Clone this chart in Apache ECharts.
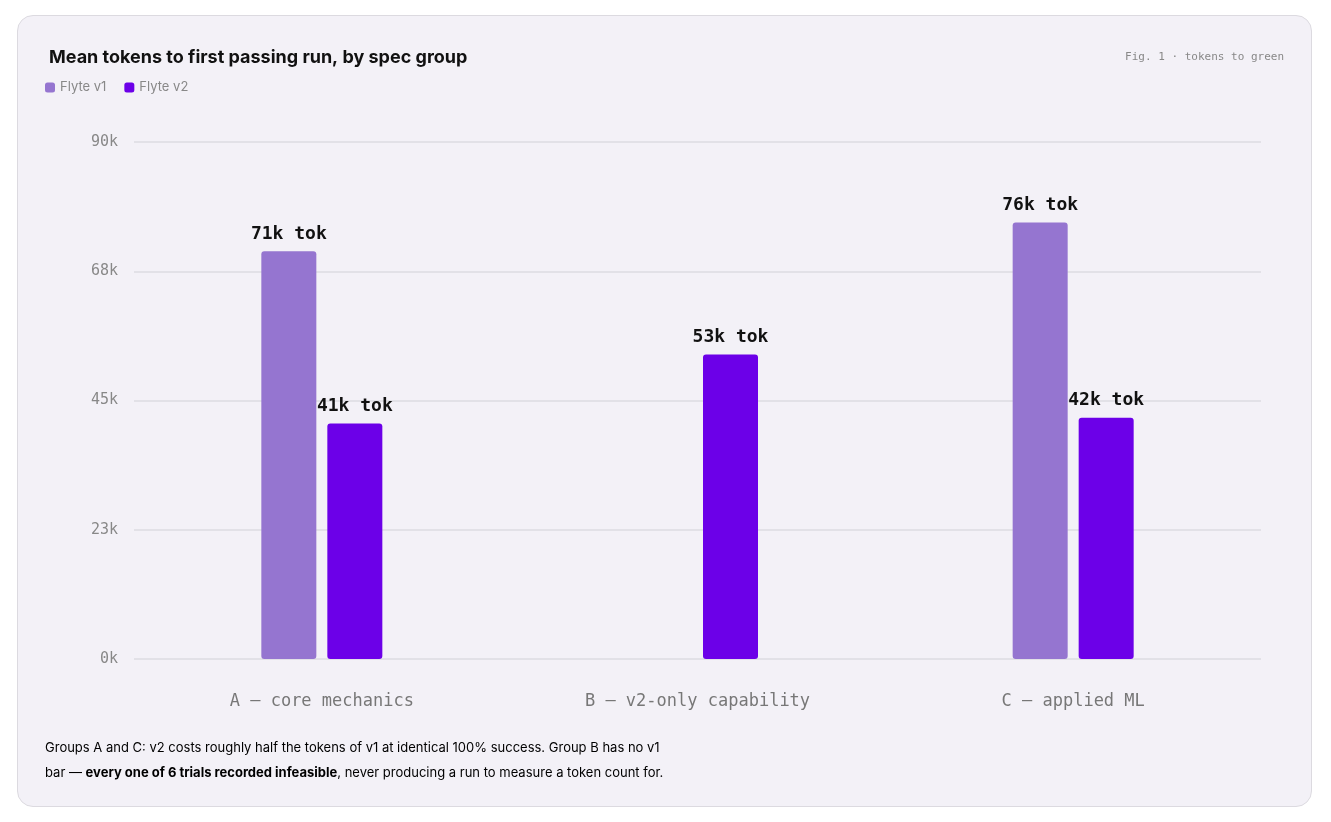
<!DOCTYPE html>
<html>
<head>
<meta charset="utf-8">
<script src="https://cdn.jsdelivr.net/npm/echarts@6/dist/echarts.min.js"></script>
<style>
  html, body { margin: 0; padding: 0; background: #ffffff; }
  #card {
    position: absolute; left: 17px; top: 15px; width: 1293px; height: 790px;
    border: 1px solid #dcdae0; border-radius: 16px; background: #f3f1f7; overflow: hidden;
  }
  #charts { width: 100%; height: 100%; }
</style>
</head>
<body>
<div id="card"><div id="charts"></div></div>
<script>
const categories = ['A — core mechanics', 'B — v2-only capability', 'C — applied ML'];
const v1Values = [71000, null, 76000];
const v2Values = [41000, 53000, 42000];
const v1Infeasible = [false, true, false];

const mono = '"DejaVu Sans Mono", monospace';
const sans = 'Inter, "Noto Sans", sans-serif';

let myChart = echarts.init(document.getElementById('charts'));

const v1Data = v1Values.map(function (v, i) {
    if (v1Infeasible[i]) {
        return {
            value: 0,
            itemStyle: { opacity: 0 },
            label: {
                show: true, formatter: 'INFEASIBLE', position: 'insideBottom',
                rotate: 90, align: 'left', verticalAlign: 'middle', offset: [0, -8],
                color: '#c0392b', fontSize: 15, fontWeight: 'bold', fontFamily: mono
            }
        };
    }
    return v;
});

const barLabel = {
    show: true, position: 'top', distance: 8,
    formatter: function (p) { return Math.round(p.value / 1000) + 'k tok'; },
    color: '#111', fontSize: 18, fontWeight: 'bold', fontFamily: mono
};

myChart.setOption({
    textStyle: { fontFamily: sans },
    title: {
        text: 'Mean tokens to first passing run, by spec group',
        left: 26, top: 28,
        textStyle: { fontSize: 18, fontWeight: 'bold', color: '#111', fontFamily: sans }
    },
    legend: {
        left: 22, top: 60, itemWidth: 10, itemHeight: 10, itemGap: 18,
        icon: 'roundRect',
        textStyle: { color: '#888', fontSize: 13, fontFamily: sans },
        data: ['Flyte v1', 'Flyte v2']
    },
    graphic: [
        {
            type: 'text', right: 27, top: 36,
            style: { text: 'Fig. 1 · tokens to green', fill: '#888', font: '11px ' + mono }
        },
        {
            type: 'text', left: 27, top: 726,
            style: {
                text: '{n|Groups A and C: v2 costs roughly half the tokens of v1 at identical 100% success. Group B has no v1}\n' +
                      '{n|bar — }{b|every one of 6 trials recorded infeasible}{n|, never producing a run to measure a token count for.}',
                rich: {
                    n: { fontSize: 13, color: '#555', fontFamily: sans, lineHeight: 25 },
                    b: { fontSize: 13, color: '#111', fontWeight: 'bold', fontFamily: sans, lineHeight: 25 }
                }
            }
        }
    ],
    grid: { left: 116, right: 50, top: 126, bottom: 147 },
    xAxis: {
        type: 'category',
        data: categories,
        axisLine: { show: false },
        axisTick: { show: false },
        axisLabel: { margin: 34, color: '#777', fontSize: 17, fontFamily: mono }
    },
    yAxis: {
        type: 'value', min: 0, max: 90000, interval: 22500,
        axisLabel: {
            margin: 16, color: '#888', fontSize: 15, fontFamily: mono,
            formatter: function (v) { return Math.round(v / 1000) + 'k'; }
        },
        splitLine: { lineStyle: { color: '#dddbe2', width: 1.5 } }
    },
    series: [
        {
            name: 'Flyte v1', type: 'bar', data: v1Data,
            barWidth: 55, barGap: '20%',
            itemStyle: { color: '#9575d0', borderRadius: 3 },
            label: barLabel
        },
        {
            name: 'Flyte v2', type: 'bar', data: v2Values,
            barWidth: 55,
            itemStyle: { color: '#6c00e8', borderRadius: 3 },
            label: barLabel
        }
    ]
});
</script>
</body>
</html>
